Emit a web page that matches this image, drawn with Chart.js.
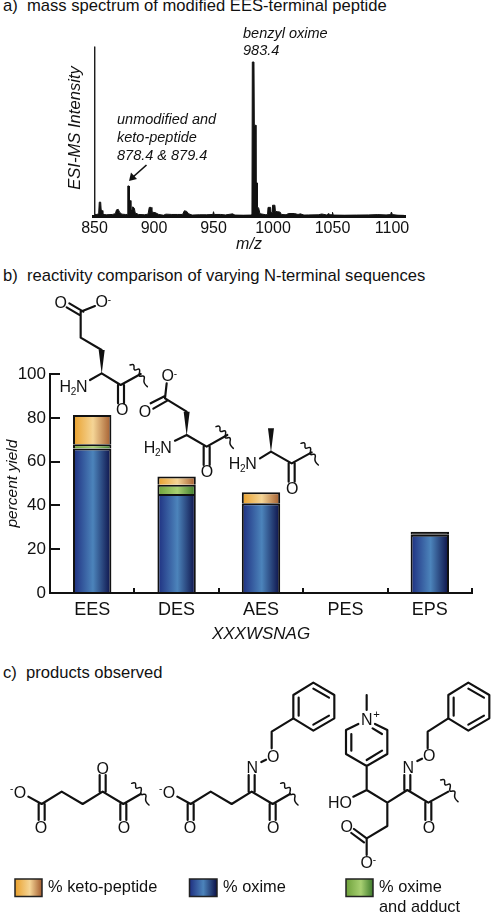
<!DOCTYPE html>
<html>
<head>
<meta charset="utf-8">
<title>EES-terminal peptide</title>
<script src="https://cdn.jsdelivr.net/npm/chart.js@4"></script>
<style>
html, body { margin: 0; padding: 0; background: #fff; }
body { position: relative; width: 494px; height: 915px; overflow: hidden; font-family: "Liberation Sans", sans-serif; color: #111; }
.wrap { position: absolute; left: 0; }
.heading { position: absolute; left: 3px; font-size: 16.6px; line-height: 18px; white-space: pre; }
#art { position: absolute; left: 0; top: 0; pointer-events: none; }
#art text { font-family: "Liberation Sans", sans-serif; fill: #111; }
.bond { fill: none; stroke: #111; stroke-width: 6.5; stroke-linecap: round; stroke-linejoin: round; }
.thin { stroke-width: 4.5; }
.at { font-size: 48px; text-anchor: middle; }
.sup { font-size: 30px; }
.note { font-size: 14.5px; font-style: italic; }
.key { font-size: 16.4px; }
.swatch { stroke: #222; stroke-width: 1.5; }
</style>
</head>
<body>
<div class="heading" style="top:-3px">a)  mass spectrum of modified EES-terminal peptide</div>
<div class="wrap" style="top:20px;width:494px;height:240px"><canvas id="spectrumChart"></canvas></div>
<div class="heading" style="top:267px">b)  reactivity comparison of varying N-terminal sequences</div>
<div class="wrap" style="top:350px;width:494px;height:300px"><canvas id="yieldChart"></canvas></div>
<div class="heading" style="top:664px">c)  products observed</div>

<svg id="art" width="494" height="915" viewBox="0 0 494 915">
  <defs>
    <linearGradient id="gOrange"><stop offset="0" stop-color="#e9a02c"/><stop offset=".55" stop-color="#f5d596"/><stop offset="1" stop-color="#a35c2e"/></linearGradient>
    <linearGradient id="gBlue"><stop offset="0" stop-color="#1e2f80"/><stop offset=".5" stop-color="#4c84bb"/><stop offset="1" stop-color="#0c1048"/></linearGradient>
    <linearGradient id="gGreen"><stop offset="0" stop-color="#6ea13b"/><stop offset=".55" stop-color="#a8d072"/><stop offset="1" stop-color="#3d7a2b"/></linearGradient>
    <path id="wig" class="bond thin" d="M0 0q14 -6 12 8q-2 10 10 5q10 -4 6 12q-4 12 8 8q10 -2 6 12q-2 10 10 20"/>
    <path id="ring" class="bond" d="M0 0V-70L60 -107L123 -70V0L60 37ZM16 -8V-62M60 19L107 -8M107 -62L60 -89"/>
  </defs>

  <!-- spectrum notes -->
  <text class="note" x="243" y="38">benzyl oxime</text>
  <text class="note" x="243" y="55">983.4</text>
  <text class="note" x="117" y="124">unmodified and</text>
  <text class="note" x="117" y="142">keto-peptide</text>
  <text class="note" x="117" y="160">878.4 &amp; 879.4</text>
  <path d="M146.5 165L133 177" stroke="#111" stroke-width="1.6" fill="none"/>
  <path d="M129 181L131 172.5L137 179Z" fill="#111"/>

  <!-- residues above the bars, drawn at 3x -->
  <g transform="translate(0,270) scale(.33333)">
    <path class="bond" d="M200 112L242 137M208 100L250 125M242 125V203L305 240M305 310L270 330M305 310L362 345L422 312M354 345V400M372 345V400M242 125L285 108"/>
    <polygon points="305,312 296,240 314,240" fill="#111"/>
    <use href="#wig" x="390" y="285"/>
    <text class="at" x="182" y="114">O</text><text class="at" x="305" y="112">O</text><text class="sup" x="323" y="98">-</text>
    <text class="at" x="220" y="366" style="letter-spacing:-1px">H<tspan font-size="30" dy="8">2</tspan><tspan dy="-8">N</tspan></text>
    <text class="at" x="367" y="434">O</text>

    <path class="bond" d="M452 400L495 378M460 416L502 392M495 385L500 340M495 385L560 425M560 495L525 512M560 495L620 530L682 495M611 530V585M629 530V585"/>
    <polygon points="560,497 551,425 569,425" fill="#111"/>
    <use href="#wig" x="648" y="470"/>
    <text class="at" x="503" y="334">O</text><text class="sup" x="521" y="320">-</text>
    <text class="at" x="435" y="442">O</text>
    <text class="at" x="473" y="549" style="letter-spacing:-1px">H<tspan font-size="30" dy="8">2</tspan><tspan dy="-8">N</tspan></text>
    <text class="at" x="621" y="622">O</text>

    <path class="bond" d="M813 545L780 565M813 545L875 580L935 547M866 580V635M884 580V635"/>
    <polygon points="813,547 804,475 822,475" fill="#111"/>
    <use href="#wig" x="903" y="520"/>
    <text class="at" x="728" y="598" style="letter-spacing:-1px">H<tspan font-size="30" dy="8">2</tspan><tspan dy="-8">N</tspan></text>
    <text class="at" x="877" y="671">O</text>
  </g>

  <!-- products, drawn at 3x -->
  <g transform="translate(0,680) scale(.33333)">
    <path class="bond" d="M85 350L125 372L185 335L248 372L308 335L370 372L422 342M116 372V420M134 372V420M299 335V285M317 335V285M361 372V420M379 372V420"/>
    <use href="#wig" x="395" y="310"/>
    <text class="at" x="60" y="354">O</text><text class="sup" x="30" y="336">-</text>
    <text class="at" x="123" y="459">O</text><text class="at" x="308" y="282">O</text><text class="at" x="372" y="459">O</text>

    <path class="bond" d="M532 350L572 372L632 335L695 372L755 335L818 372L870 342M563 372V420M581 372V420M746 335V285M764 335V285M809 372V420M827 372V420M784 246L798 239M815 205V155L880 115"/>
    <use href="#ring" x="880" y="115"/>
    <use href="#wig" x="842" y="310"/>
    <text class="at" x="507" y="354">O</text><text class="sup" x="477" y="336">-</text>
    <text class="at" x="570" y="459">O</text><text class="at" x="757" y="279">N</text>
    <text class="at" x="820" y="245">O</text><text class="at" x="820" y="459">O</text>

    <path class="bond" d="M1100 45V90M1075 132L1038 150V222L1100 258L1162 222V150L1125 132M1054 162V212M1146 212L1100 240M1146 162L1118 145M1100 258V330L1060 350M1100 330L1162 368L1222 330L1285 368L1345 335M1213 330V285M1231 330V285M1276 368V420M1294 368V420M1252 243L1266 236M1283 205V155L1345 115M1162 368V438L1100 475M1100 475L1062 447M1092 487L1054 459M1100 475V525"/>
    <use href="#ring" x="1345" y="115"/>
    <use href="#wig" x="1322" y="300"/>
    <text class="at" x="1100" y="135">N</text><text class="sup" x="1120" y="115" style="font-size:34px">+</text>
    <text class="at" x="1020" y="384">HO</text>
    <text class="at" x="1225" y="278">N</text><text class="at" x="1288" y="242">O</text>
    <text class="at" x="1287" y="459">O</text><text class="at" x="1040" y="457">O</text>
    <text class="at" x="1100" y="565">O</text><text class="sup" x="1118" y="550">-</text>
  </g>

  <!-- colour key -->
  <rect class="swatch" x="15" y="879" width="27" height="17.5" fill="url(#gOrange)"/>
  <text class="key" x="48" y="892">% keto-peptide</text>
  <rect class="swatch" x="189.5" y="879" width="27.5" height="17.5" fill="url(#gBlue)"/>
  <text class="key" x="223" y="892">% oxime</text>
  <rect class="swatch" x="346" y="879" width="27" height="17.5" fill="url(#gGreen)"/>
  <text class="key" x="379" y="892">% oxime</text>
  <text class="key" x="379" y="912">and adduct</text>
</svg>

<script>
// 质谱数据 (m/z, intensity relative to the 983.4 peak)
const mzValues = [849.6, 850, 850.4, 852, 853.5, 854, 855.2, 855.6, 856.6, 857, 860, 865, 867.5, 868.5, 870, 871, 873, 876, 877.6, 878, 879, 879.4, 880.2, 880.6, 881.5, 882.2, 883.5, 884.2, 887, 892, 895, 896, 897.5, 898.2, 901, 904, 908, 910, 915, 920, 924, 925.5, 927.5, 929, 932, 938, 944, 949.5, 950, 950.6, 956, 960, 966, 968, 975, 981.5, 982.3, 982.6, 984, 984.3, 985.4, 985.7, 986.6, 986.9, 988, 989, 994, 995.4, 995.8, 998, 998.4, 999.2, 999.6, 1001.6, 1002, 1004, 1006, 1007, 1011, 1013, 1018, 1021, 1023, 1026, 1030, 1038, 1041, 1045, 1047, 1048, 1049.6, 1050, 1050.6, 1060, 1070, 1080, 1088, 1095, 1098.8, 1099.5, 1100.3, 1105, 1110];
const intensityValues = [0, 110, 1, 1, 1.5, 9, 9, 4, 3.5, 1, 0.8, 1, 1.5, 4, 4.3, 2.5, 1.2, 1, 1, 19.5, 19.5, 9, 10, 3, 4, 6, 5, 2, 1, 0.8, 1.2, 5.6, 5.6, 2.5, 2.2, 1, 0.5, 1.2, 1, 1, 1, 3.4, 3, 1.5, 0.6, 0.8, 0.8, 1, 2.8, 1, 1, 0.7, 1.4, 0.6, 0.5, 0.6, 1, 100, 100, 59, 59, 21.5, 21.5, 6, 5, 1.5, 0.8, 1, 5.6, 5.6, 2, 2.5, 7, 7, 3, 2.8, 2.5, 1, 0.8, 1.6, 1.6, 1, 1.4, 0.6, 0.7, 0.8, 1.3, 0.7, 1.6, 0.8, 0.8, 2.4, 0.6, 0.5, 0.6, 0.7, 0.9, 0.7, 0.9, 2.6, 0.9, 0.5, 0.4];
const mzTicks = [850, 900, 950, 1000, 1050, 1100];

// 产率数据
const sequences = ['EES', 'DES', 'AES', 'PES', 'EPS'];
const oximeYield = [66, 45.3, 41, 0, 26.6];
const adductYield = [2, 4.2, 0, 0, 0];
const ketoYield = [13.4, 3.7, 5, 0, 1.4];
const yieldTicks = [0, 20, 40, 60, 80, 100];

const blueStops = ['#1e2f80', '#4c84bb', '#0c1048'];
const greenStops = ['#6ea13b', '#a8d072', '#3d7a2b'];
const orangeStops = ['#e9a02c', '#f5d596', '#a35c2e'];

const sans = '"Liberation Sans", sans-serif';
const ink = '#111';

// horizontal gradient across one bar
function barFill(stops) {
    return (ctx) => {
        const chart = ctx.chart;
        const xScale = chart.scales.x;
        if (!xScale || !chart.chartArea || ctx.dataIndex === undefined) {
            return stops[0];
        }
        // the thin cap on EPS reads as solid black
        if (ctx.raw < 2 && ctx.raw > 0) {
            return ink;
        }
        const cx = xScale.getPixelForValue(ctx.dataIndex);
        const g = chart.ctx.createLinearGradient(cx - 19, 0, cx + 19, 0);
        g.addColorStop(0, stops[0]);
        g.addColorStop(0.52, stops[1]);
        g.addColorStop(1, stops[2]);
        return g;
    };
}

function yieldDataset(label, data, stops) {
    return {
        label: label,
        data: data,
        backgroundColor: barFill(stops),
        borderColor: ink,
        borderWidth: { top: 2, right: 2, bottom: 0, left: 2 },
        borderSkipped: false
    };
}

new Chart(document.getElementById('spectrumChart').getContext('2d'), {
    type: 'line',
    data: {
        datasets: [{
            label: 'ESI-MS',
            data: mzValues.map((mz, i) => ({ x: mz, y: intensityValues[i] })),
            borderColor: ink,
            backgroundColor: ink,
            borderWidth: 1,
            pointRadius: 0,
            tension: 0,
            fill: 'origin'
        }]
    },
    options: {
        responsive: true,
        maintainAspectRatio: false,
        animation: false,
        layout: { padding: { top: 20, right: 89 } },
        plugins: { legend: { display: false }, tooltip: { enabled: false } },
        scales: {
            x: {
                type: 'linear',
                min: 848.74,
                max: 1110.9,
                afterBuildTicks: (scale) => { scale.ticks = mzTicks.map((v) => ({ value: v })); },
                afterFit: (scale) => { scale.height = 44; },
                grid: { display: false, drawTicks: false },
                border: { color: ink, width: 3 },
                ticks: { color: ink, padding: 3, maxRotation: 0, autoSkip: false, callback: (v) => String(v), font: { family: sans, size: 16 } },
                title: { display: true, text: 'm/z', color: ink, padding: { top: 0, bottom: 6 }, font: { family: sans, size: 16, style: 'italic' } }
            },
            y: {
                min: 0,
                max: 114.3,
                afterFit: (scale) => { scale.width = 93; },
                grid: { display: false, drawTicks: false },
                border: { display: false },
                ticks: { display: false },
                title: { display: true, text: 'ESI-MS Intensity', color: ink, padding: { top: 65, bottom: 0 }, font: { family: sans, size: 16.6, style: 'italic' } }
            }
        }
    }
});

new Chart(document.getElementById('yieldChart').getContext('2d'), {
    type: 'bar',
    data: {
        labels: sequences,
        datasets: [
            yieldDataset('% oxime', oximeYield, blueStops),
            yieldDataset('% oxime and adduct', adductYield, greenStops),
            yieldDataset('% keto-peptide', ketoYield, orangeStops)
        ]
    },
    options: {
        responsive: true,
        maintainAspectRatio: false,
        animation: false,
        barPercentage: 1,
        categoryPercentage: 0.455,
        layout: { padding: { top: 23, right: 22 } },
        plugins: { legend: { display: false }, tooltip: { enabled: false } },
        scales: {
            x: {
                stacked: true,
                afterFit: (scale) => { scale.height = 57; },
                // 刻度朝内
                grid: { drawOnChartArea: false, tickLength: -5, lineWidth: 2, color: ink },
                border: { color: ink, width: 2 },
                ticks: { color: ink, padding: 11, font: { family: sans, size: 18 } },
                title: { display: true, text: 'XXXWSNAG', color: ink, padding: { top: 0, bottom: 6 }, font: { family: sans, size: 17, style: 'italic' } }
            },
            y: {
                stacked: true,
                min: 0,
                max: 100,
                afterBuildTicks: (scale) => { scale.ticks = yieldTicks.map((v) => ({ value: v })); },
                afterFit: (scale) => { scale.width = 50; },
                grid: { drawOnChartArea: false, tickLength: -10, lineWidth: 2, color: ink },
                border: { color: ink, width: 2 },
                ticks: { color: ink, padding: 14, font: { family: sans, size: 17 } },
                title: { display: true, text: 'percent yield', color: ink, padding: { top: 3, bottom: 0 }, font: { family: sans, size: 15.5, style: 'italic' } }
            }
        }
    }
});
</script>
</body>
</html>
